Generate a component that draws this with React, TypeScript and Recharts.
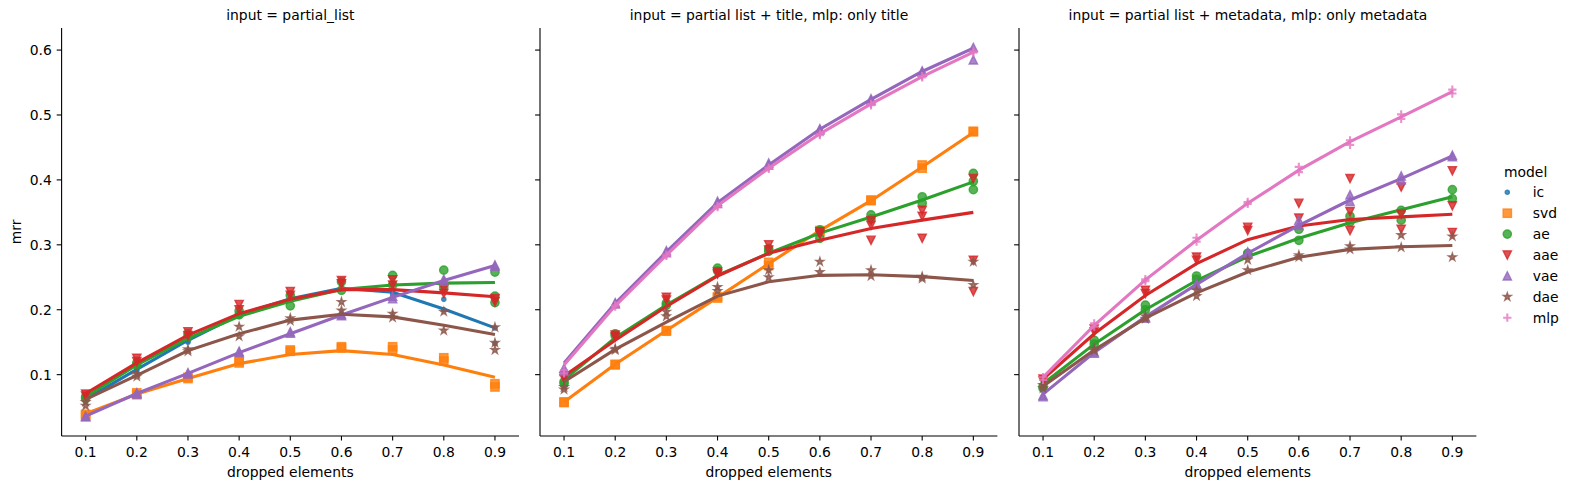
import React from "react";
import { ComposedChart, Line, Scatter, XAxis, YAxis } from "recharts";

// x positions shared by every facet
const DROPPED = [0.1, 0.2, 0.3, 0.4, 0.5, 0.6, 0.7, 0.8, 0.9];
const Y_TICKS = [0.1, 0.2, 0.3, 0.4, 0.5, 0.6];

const MODELS = ["ic", "svd", "ae", "aae", "vae", "dae", "mlp"];
const COLORS: Record<string, string> = {
  ic: "#1f77b4",
  svd: "#ff7f0e",
  ae: "#2ca02c",
  aae: "#d62728",
  vae: "#9467bd",
  dae: "#8c564b",
  mlp: "#e377c2",
};

const TITLES = [
  "input = partial_list",
  "input = partial list + title, mlp: only title",
  "input = partial list + metadata, mlp: only metadata",
];

// --- facet 1: partial_list (lowess fit + raw runs per x) ---
const FIT_PARTIAL: Record<string, number[]> = {
  ic: [0.062, 0.108, 0.153, 0.192, 0.217, 0.233, 0.227, 0.201, 0.172],
  svd: [0.04, 0.07, 0.094, 0.117, 0.131, 0.137, 0.131, 0.115, 0.096],
  ae: [0.066, 0.115, 0.156, 0.19, 0.213, 0.231, 0.238, 0.241, 0.242],
  aae: [0.071, 0.118, 0.161, 0.194, 0.216, 0.231, 0.231, 0.226, 0.22],
  vae: [0.036, 0.071, 0.102, 0.134, 0.163, 0.192, 0.219, 0.245, 0.268],
  dae: [0.062, 0.099, 0.137, 0.163, 0.184, 0.193, 0.189, 0.176, 0.162],
};
const PTS_PARTIAL: Record<string, number[][]> = {
  ic: [[0.063, 0.06], [0.108, 0.105], [0.152, 0.15], [0.192, 0.19], [0.218, 0.215], [0.234, 0.232], [0.228, 0.224], [0.216, 0.2], [0.172, 0.148]],
  svd: [[0.037, 0.039], [0.072, 0.069], [0.094, 0.096], [0.121, 0.118], [0.138, 0.136], [0.143, 0.141], [0.143, 0.138], [0.126, 0.121], [0.086, 0.081]],
  ae: [[0.066, 0.063], [0.118, 0.115], [0.163, 0.158], [0.198, 0.192], [0.222, 0.206], [0.243, 0.23], [0.253, 0.238], [0.261, 0.235], [0.258, 0.221, 0.211]],
  aae: [[0.07, 0.067], [0.125, 0.12], [0.166, 0.16], [0.208, 0.2], [0.228, 0.222], [0.245, 0.24], [0.246, 0.238], [0.233, 0.225], [0.217, 0.212]],
  vae: [[0.036, 0.035], [0.072, 0.07], [0.103, 0.101], [0.136, 0.134], [0.166, 0.164], [0.193, 0.191], [0.221, 0.217], [0.247, 0.244], [0.269, 0.267]],
  dae: [[0.058, 0.052], [0.101, 0.097], [0.139, 0.136], [0.174, 0.159], [0.187, 0.183], [0.212, 0.199], [0.194, 0.188], [0.197, 0.168], [0.173, 0.149, 0.138]],
};

// --- facet 2: partial list + title ---
const FIT_TITLE: Record<string, number[]> = {
  svd: [0.058, 0.116, 0.168, 0.219, 0.271, 0.322, 0.368, 0.42, 0.473],
  ae: [0.092, 0.157, 0.207, 0.253, 0.287, 0.318, 0.343, 0.369, 0.397],
  aae: [0.098, 0.153, 0.205, 0.252, 0.287, 0.307, 0.325, 0.338, 0.35],
  vae: [0.118, 0.21, 0.289, 0.365, 0.423, 0.478, 0.524, 0.567, 0.603],
  dae: [0.089, 0.139, 0.181, 0.221, 0.243, 0.253, 0.254, 0.251, 0.245],
  mlp: [0.115, 0.206, 0.284, 0.36, 0.418, 0.471, 0.517, 0.559, 0.597],
};
const PTS_TITLE: Record<string, number[][]> = {
  svd: [[0.058, 0.057], [0.116, 0.115], [0.168, 0.167], [0.22, 0.218], [0.273, 0.268], [0.322, 0.32], [0.368, 0.369], [0.423, 0.418], [0.475, 0.474]],
  ae: [[0.089, 0.086], [0.163, 0.16], [0.21, 0.207], [0.264, 0.26], [0.294, 0.29], [0.323, 0.31], [0.346, 0.34], [0.374, 0.364], [0.41, 0.398, 0.385]],
  aae: [[0.097, 0.094], [0.161, 0.158], [0.219, 0.215], [0.258, 0.255], [0.3, 0.292], [0.32, 0.316], [0.337, 0.33, 0.307], [0.353, 0.344, 0.31], [0.402, 0.276, 0.228]],
  vae: [[0.11, 0.105], [0.211, 0.209], [0.291, 0.288], [0.367, 0.364], [0.426, 0.423], [0.479, 0.477], [0.525, 0.522], [0.568, 0.566], [0.604, 0.585]],
  dae: [[0.081, 0.077], [0.14, 0.138], [0.197, 0.19], [0.235, 0.229], [0.261, 0.25], [0.274, 0.258], [0.261, 0.252], [0.251, 0.248], [0.274, 0.238]],
  mlp: [[0.107, 0.102], [0.207, 0.205], [0.285, 0.283], [0.36, 0.358], [0.419, 0.417], [0.471, 0.469], [0.517, 0.515], [0.56, 0.558], [0.598, 0.596]],
};

// --- facet 3: partial list + metadata ---
const FIT_META: Record<string, number[]> = {
  ae: [0.086, 0.147, 0.2, 0.245, 0.282, 0.31, 0.334, 0.354, 0.374],
  aae: [0.093, 0.163, 0.222, 0.271, 0.308, 0.329, 0.339, 0.343, 0.347],
  vae: [0.07, 0.134, 0.189, 0.239, 0.287, 0.33, 0.369, 0.402, 0.437],
  dae: [0.082, 0.138, 0.187, 0.226, 0.258, 0.281, 0.293, 0.297, 0.299],
  mlp: [0.096, 0.176, 0.246, 0.307, 0.364, 0.415, 0.459, 0.497, 0.536],
};
const PTS_META: Record<string, number[][]> = {
  ae: [[0.082, 0.079], [0.153, 0.147], [0.207, 0.2], [0.252, 0.247], [0.287, 0.285], [0.324, 0.307], [0.344, 0.335], [0.353, 0.338], [0.385, 0.371]],
  aae: [[0.093, 0.09], [0.166, 0.17], [0.23, 0.225], [0.281, 0.276], [0.327, 0.322], [0.364, 0.341], [0.402, 0.351, 0.322], [0.389, 0.347, 0.324], [0.414, 0.36, 0.319]],
  vae: [[0.066, 0.068], [0.133, 0.135], [0.187, 0.189], [0.238, 0.24], [0.289, 0.287], [0.338, 0.33], [0.377, 0.367], [0.406, 0.4], [0.438, 0.436]],
  dae: [[0.079, 0.084], [0.14, 0.137], [0.19, 0.186], [0.23, 0.221], [0.277, 0.261], [0.284, 0.281], [0.298, 0.293], [0.315, 0.296], [0.313, 0.281]],
  mlp: [[0.096, 0.092], [0.179, 0.174], [0.247, 0.244], [0.311, 0.305], [0.366, 0.363], [0.42, 0.412], [0.461, 0.454], [0.501, 0.494], [0.539, 0.533]],
};

const FITS = [FIT_PARTIAL, FIT_TITLE, FIT_META];
const POINTS = [PTS_PARTIAL, PTS_TITLE, PTS_META];

const FONT = "'DejaVu Sans', sans-serif";
const FS = 13.9;
const HALF = 4.15; // half marker size (6pt)

function Glyph({ model, cx, cy }: { model: string; cx: number; cy: number }) {
  const c = COLORS[model];
  const paint = { fill: c, fillOpacity: 0.8, stroke: c, strokeOpacity: 0.8, strokeWidth: 1.4 };
  const h = HALF;
  switch (model) {
    case "ic":
      return <circle cx={cx} cy={cy} r={h / 2} {...paint} />;
    case "svd":
      return <rect x={cx - h} y={cy - h} width={2 * h} height={2 * h} {...paint} />;
    case "ae":
      return <circle cx={cx} cy={cy} r={h} {...paint} />;
    case "aae":
      return <polygon points={`${cx},${cy + h} ${cx - h},${cy - h} ${cx + h},${cy - h}`} {...paint} />;
    case "vae":
      return <polygon points={`${cx},${cy - h} ${cx - h},${cy + h} ${cx + h},${cy + h}`} {...paint} />;
    case "dae": {
      const pts: string[] = [];
      for (let k = 0; k < 10; k++) {
        const r = k % 2 === 0 ? h : h * 0.382;
        const a = -Math.PI / 2 + (k * Math.PI) / 5;
        pts.push(`${cx + r * Math.cos(a)},${cy + r * Math.sin(a)}`);
      }
      return <polygon points={pts.join(" ")} {...paint} />;
    }
    default:
      return (
        <path
          d={`M${cx - h},${cy}H${cx + h}M${cx},${cy - h}V${cy + h}`}
          fill="none"
          stroke={c}
          strokeOpacity={0.8}
          strokeWidth={2.1}
        />
      );
  }
}

const fmt = (v: number) => v.toFixed(1);
const noLabel = () => <g />;

function Facet({ index }: { index: number }) {
  const fits = FITS[index];
  const pts = POINTS[index];
  const first = index === 0;
  const yw = first ? 61.6 : 30;
  const plotLeft = [61.6, 540.3, 1019.3][index];
  const width = yw + 457.4 + 6;
  const order = MODELS.filter((m) => fits[m]);

  return (
    <div style={{ position: "absolute", left: plotLeft - yw, top: 0 }}>
      <ComposedChart width={width} height={489} margin={{ top: 28, right: 6, bottom: 0, left: 0 }}>
        <XAxis
          dataKey="x"
          type="number"
          domain={[0.053, 0.947]}
          ticks={DROPPED}
          tickFormatter={fmt}
          height={53}
          tickSize={4.5}
          tickMargin={7}
          axisLine={{ stroke: "#000", strokeWidth: 1.1 }}
          tickLine={{ stroke: "#000", strokeWidth: 1.1 }}
          tick={{ fill: "#000", fontSize: FS, fontFamily: FONT }}
          label={{ value: "dropped elements", position: "insideBottom", offset: 12, fill: "#000", fontSize: FS, fontFamily: FONT }}
        />
        <YAxis
          type="number"
          dataKey="y"
          domain={[0.0055, 0.634]}
          ticks={Y_TICKS}
          tickFormatter={fmt}
          width={yw}
          tickSize={4.9}
          tickMargin={4.9}
          axisLine={{ stroke: "#000", strokeWidth: 1.1 }}
          tickLine={{ stroke: "#000", strokeWidth: 1.1 }}
          tick={first ? { fill: "#000", fontSize: FS, fontFamily: FONT } : noLabel}
          label={
            first
              ? {
                  content: (p: any) => {
                    const vb = p.viewBox || { x: 0, y: 28, height: 408 };
                    const x = vb.x + 20.7;
                    const y = vb.y + vb.height / 2;
                    return (
                      <text x={x} y={y} transform={`rotate(-90, ${x}, ${y})`} textAnchor="middle" fill="#000" fontSize={FS} fontFamily={FONT}>
                        mrr
                      </text>
                    );
                  },
                }
              : undefined
          }
        />
        {order.flatMap((m, i) => [
          <Scatter
            key={`s-${m}`}
            data={pts[m].flatMap((ys, j) => ys.map((y) => ({ x: DROPPED[j], y })))}
            dataKey="y"
            isAnimationActive={false}
            zIndex={400 + 2 * i}
            shape={(p: any) => <Glyph model={m} cx={p.cx} cy={p.cy} />}
          />,
          <Line
            key={`l-${m}`}
            data={DROPPED.map((x, j) => ({ x, y: fits[m][j] }))}
            dataKey="y"
            type="linear"
            stroke={COLORS[m]}
            strokeWidth={3.1}
            dot={false}
            activeDot={false}
            isAnimationActive={false}
            zIndex={401 + 2 * i}
          />,
        ])}
      </ComposedChart>
    </div>
  );
}

function Overlay() {
  const centers = [61.6, 540.3, 1019.3].map((l) => l + 457.4 / 2);
  return (
    <svg width={1570} height={489} style={{ position: "absolute", left: 0, top: 0, pointerEvents: "none" }} fontFamily={FONT} fontSize={FS}>
      {TITLES.map((t, i) => (
        <text key={t} x={centers[i]} y={19.8} textAnchor="middle" fill="#000">
          {t}
        </text>
      ))}
      <text x={1504} y={176.5} fill="#000">
        model
      </text>
      {MODELS.map((m, i) => {
        const cy = 192.3 + i * 20.9;
        return (
          <g key={m}>
            <Glyph model={m} cx={1507.3} cy={cy} />
            <text x={1532.7} y={cy + 4.9} fill="#000">
              {m}
            </text>
          </g>
        );
      })}
    </svg>
  );
}

export default function App() {
  return (
    <div style={{ position: "absolute", left: 0, top: 0, width: 1570, height: 489, background: "#fff", fontFamily: FONT }}>
      {[0, 1, 2].map((i) => (
        <Facet key={i} index={i} />
      ))}
      <Overlay />
    </div>
  );
}
